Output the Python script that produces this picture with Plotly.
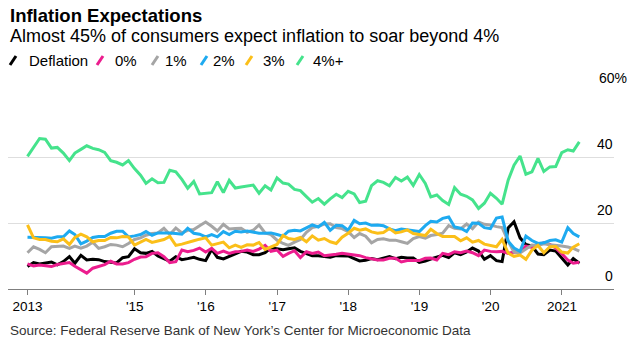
import pandas as pd
import plotly.graph_objects as go

# ---------------- data (monthly, Jun 2013 - Mar 2021, % of respondents) ----------------
start_month = "2013-07-01"
n_months = 94

deflation = [6.8, 8.0, 7.6, 7.8, 8.2, 7.3, 8.3, 9.8, 7.8, 10.2, 8.8, 9.0, 8.9, 8.3, 8.0, 7.9,
             9.5, 9.8, 12.2, 11.0, 10.8, 11.4, 10.0, 9.3, 8.4, 9.8, 8.9, 9.2, 9.6, 9.0, 8.6, 12.0,
             9.6, 9.1, 9.8, 10.6, 11.4, 11.2, 10.4, 10.4, 11.0, 12.5, 12.1, 11.9, 12.2, 12.5, 11.4, 10.7,
             10.1, 10.1, 9.8, 9.6, 10.1, 10.1, 10.0, 9.2, 8.5, 8.7, 9.2, 8.9, 9.3, 9.8, 9.2, 9.6,
             9.4, 9.4, 8.1, 8.5, 9.1, 9.7, 10.2, 9.5, 11.0, 10.4, 11.2, 12.4, 11.5, 9.0, 10.1, 8.6,
             8.3, 18.5, 20.4, 15.5, 13.5, 13.0, 10.6, 10.4, 11.8, 11.5, 9.5, 7.3, 9.2, 7.8]
zero_pct = [7.6, 7.0, 7.3, 7.1, 6.8, 7.4, 7.8, 8.0, 6.9, 5.8, 4.8, 6.3, 6.8, 7.4, 8.4, 7.6,
            7.6, 8.0, 9.0, 9.7, 9.8, 10.8, 11.0, 9.8, 8.0, 8.3, 11.8, 11.3, 11.7, 12.4, 11.2, 12.3,
            10.8, 11.5, 10.8, 11.3, 11.4, 11.8, 11.4, 12.1, 13.2, 11.4, 11.8, 9.9, 10.8, 11.6, 9.5, 11.3,
            10.8, 11.2, 10.1, 10.2, 10.5, 10.8, 10.6, 10.2, 10.1, 9.5, 9.1, 8.8, 8.8, 9.3, 9.3, 8.2,
            8.6, 8.6, 8.6, 9.3, 9.4, 8.8, 10.8, 10.4, 11.3, 11.0, 11.5, 11.0, 10.1, 11.8, 11.4, 11.3,
            11.4, 10.8, 11.1, 11.5, 13.0, 12.6, 13.4, 14.0, 13.5, 12.4, 10.7, 8.8, 7.8, 8.1]
one_pct = [11.0, 12.8, 12.0, 11.0, 12.8, 13.0, 13.0, 12.3, 13.0, 12.4, 13.0, 14.2, 12.3, 12.8, 13.5, 13.3,
           12.8, 13.8, 15.0, 15.5, 16.3, 16.8, 17.0, 18.4, 16.5, 18.5, 17.0, 17.8, 18.0, 19.2, 20.3, 19.0,
           17.6, 19.6, 18.2, 18.3, 18.4, 17.2, 17.8, 19.4, 17.0, 16.5, 14.8, 13.8, 13.2, 14.2, 15.0, 17.2,
           18.6, 19.0, 19.7, 19.8, 18.6, 18.3, 17.4, 15.6, 16.8, 16.0, 14.0, 15.0, 15.2, 14.8, 14.8, 14.3,
           13.8, 15.3, 15.9, 15.4, 16.2, 16.5, 16.9, 19.2, 18.4, 18.2, 19.7, 18.3, 20.3, 19.6, 19.4, 18.9,
           18.6, 14.5, 11.2, 10.9, 12.0, 13.3, 13.2, 13.7, 13.4, 13.3, 13.0, 12.7, 12.3, 11.5]
two_pct = [15.7, 15.7, 15.6, 15.5, 15.4, 15.8, 15.8, 17.6, 16.5, 13.7, 14.5, 15.6, 15.9, 15.9, 16.9, 17.5,
           17.5, 15.8, 16.1, 16.5, 17.4, 16.3, 17.0, 17.1, 17.0, 16.8, 16.6, 18.4, 16.9, 16.6, 15.8, 16.5,
           15.8, 17.4, 16.5, 17.5, 17.3, 17.6, 17.3, 16.9, 16.9, 17.0, 16.5, 16.0, 17.5, 17.8, 17.6, 18.5,
           19.4, 18.8, 20.2, 17.8, 19.3, 19.2, 17.8, 20.8, 19.8, 20.0, 19.3, 19.4, 19.2, 18.2, 17.7, 18.2,
           17.9, 17.6, 17.4, 19.2, 20.5, 20.3, 21.4, 21.8, 18.8, 18.4, 17.4, 20.0, 19.9, 18.6, 18.3, 21.5,
           21.8, 14.5, 12.4, 11.4, 16.0, 14.7, 13.8, 14.0, 14.7, 14.9, 14.2, 18.6, 16.8, 15.8]
three_pct = [19.4, 15.5, 15.0, 15.0, 14.5, 14.3, 15.2, 13.5, 15.6, 16.6, 15.8, 14.3, 14.7, 14.7, 15.6, 15.5,
             15.9, 15.8, 13.3, 14.2, 15.0, 14.1, 14.6, 15.0, 15.9, 13.2, 13.6, 14.0, 14.6, 15.1, 15.5, 13.3,
             13.8, 14.2, 12.5, 13.3, 12.6, 13.4, 13.3, 14.1, 12.0, 12.8, 13.5, 16.2, 15.3, 15.0, 15.6, 14.3,
             16.1, 14.8, 15.3, 14.3, 13.8, 15.7, 16.9, 18.4, 17.8, 18.2, 17.3, 16.9, 17.1, 18.3, 17.0, 17.3,
             17.9, 16.8, 16.4, 16.2, 18.1, 16.8, 15.9, 16.0, 15.9, 14.6, 15.5, 14.2, 14.7, 13.6, 13.3, 12.8,
             15.0, 10.9, 9.9, 10.3, 9.0, 11.8, 13.2, 11.0, 12.8, 12.9, 11.2, 10.9, 12.7, 13.7]
four_plus = [40.2, 43.0, 45.6, 45.4, 42.7, 42.9, 41.2, 38.9, 41.2, 42.3, 43.4, 42.6, 42.2, 41.4, 38.9, 38.4,
             37.6, 38.9, 36.5, 34.5, 32.0, 33.4, 32.2, 32.3, 36.0, 35.5, 33.2, 30.5, 32.6, 28.8, 29.0, 29.2,
             32.5, 29.2, 32.9, 30.6, 30.9, 31.2, 31.5, 29.0, 31.3, 30.0, 33.7, 32.1, 31.8, 30.2, 29.8, 28.0,
             26.3, 27.4, 25.7, 27.3, 28.7, 27.7, 29.6, 28.8, 26.2, 26.6, 31.3, 32.8, 32.3, 31.3, 33.8, 32.7,
             33.9, 31.4, 34.7, 32.0, 27.9, 28.5, 26.8, 25.6, 30.7, 28.7, 28.1, 27.0, 24.4, 26.0, 29.0, 27.5,
             25.7, 33.0, 37.5, 40.3, 34.8, 35.5, 39.6, 35.6, 37.0, 37.1, 41.3, 42.2, 41.8, 44.6]

series_names = ["Deflation", "0%", "1%", "2%", "3%", "4%+"]
series_values = [deflation, zero_pct, one_pct, two_pct, three_pct, four_plus]
series_colors = ["#000000", "#ec1d8e", "#a5a5a5", "#1eaaf0", "#fbbf19", "#45e38c"]

tick_dates = ["2013-06-30", "2015-01-01", "2016-01-01", "2017-01-01", "2018-01-01",
              "2019-01-01", "2020-01-01", "2021-01-01"]
tick_labels = ["2013", "'15", "'16", "'17", "'18", "'19", "'20", "2021"]
y_ticks = [0, 20, 40, 60]
y_tick_labels = ["0", "20", "40", "60%"]

# month-end dates
dates = pd.date_range(start_month, periods=n_months, freq="MS") - pd.Timedelta(days=1)

# ---------------- geometry ----------------
W, H = 637, 347
L, R, T, B = 8, 23, 91, 58
PW, PH = W - L - R, H - T - B
FONT = "Liberation Sans, Arial, sans-serif"


def px(x):
    return (x - L) / PW


def py(y):
    return (H - B - y) / PH


fig = go.Figure()
for name, vals, col in zip(series_names, series_values, series_colors):
    fig.add_trace(go.Scatter(x=dates, y=vals, mode="lines", name=name,
                             line=dict(color=col, width=3), showlegend=False,
                             hoverinfo="skip"))

annotations = []
# title / subtitle / source
annotations.append(dict(text="<b>Inflation Expectations</b>", x=px(8), y=py(15), xref="paper", yref="paper",
                        xanchor="left", yanchor="middle", showarrow=False,
                        font=dict(size=18.5, color="#000000", family=FONT)))
annotations.append(dict(text="Almost 45% of consumers expect inflation to soar beyond 4%", x=px(8), y=py(36),
                        xref="paper", yref="paper", xanchor="left", yanchor="middle", showarrow=False,
                        font=dict(size=18, color="#000000", family=FONT)))
annotations.append(dict(text="Source: Federal Reserve Bank of New York\u2019s Center for Microeconomic Data",
                        x=px(8), y=py(330), xref="paper", yref="paper", xanchor="left", yanchor="middle",
                        showarrow=False, font=dict(size=13.5, color="#333333", family=FONT)))

# legend (slash icons + labels)
slash_x = [10, 97, 152, 201, 246, 297]
text_x = [27, 113, 163, 211, 261, 311]
shapes = []
for name, col, sx, tx in zip(series_names, series_colors, slash_x, text_x):
    shapes.append(dict(type="line", xref="paper", yref="paper",
                       x0=px(sx), y0=py(65), x1=px(sx + 6), y1=py(56),
                       line=dict(color=col, width=3)))
    annotations.append(dict(text=name, x=px(tx), y=py(60.5), xref="paper", yref="paper",
                            xanchor="left", yanchor="middle", showarrow=False,
                            font=dict(size=15, color="#000000", family=FONT)))

# y-axis labels (right, above gridlines)
for v, lab in zip(y_ticks, y_tick_labels):
    if lab.endswith("%"):
        annotations.append(dict(text=lab, x=px(597), y=v, xref="paper", yref="y",
                                xanchor="left", yanchor="middle", yshift=13, showarrow=False,
                                font=dict(size=14, color="#000000", family=FONT)))
    else:
        annotations.append(dict(text=lab, x=px(615), y=v, xref="paper", yref="y",
                                xanchor="right", yanchor="middle", yshift=13, showarrow=False,
                                font=dict(size=14, color="#000000", family=FONT)))

fig.update_layout(
    width=W, height=H, autosize=False,
    margin=dict(l=L, r=R, t=T, b=B, pad=0),
    paper_bgcolor="white", plot_bgcolor="white",
    font=dict(family=FONT, size=13.5, color="#000000"),
    annotations=annotations, shapes=shapes,
    xaxis=dict(type="date", range=["2013-03-22", "2021-09-25"],
               tickvals=tick_dates, ticktext=tick_labels,
               showgrid=False, zeroline=False,
               showline=True, linecolor="#7f7f7f", linewidth=1,
               ticks="outside", ticklen=5, tickcolor="#7f7f7f", tickwidth=1,
               tickfont=dict(size=13.5, color="#000000", family=FONT)),
    yaxis=dict(range=[0, 60], tickvals=y_ticks, showticklabels=False,
               showgrid=True, gridcolor="#dedede", gridwidth=1,
               zeroline=False, showline=False, ticks=""),
)

fig.write_html("out.html")
